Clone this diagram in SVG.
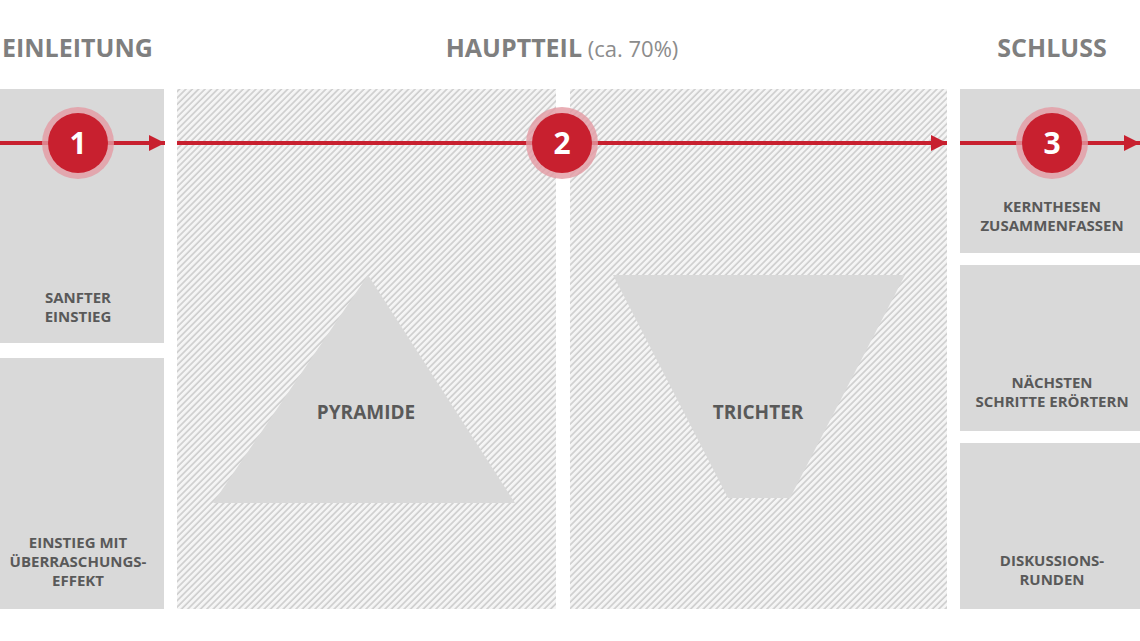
<svg xmlns="http://www.w3.org/2000/svg" width="1140" height="641" viewBox="0 0 1140 641">
  <defs>
    <style>
      .title { font-family: "Open Sans", "Liberation Sans", sans-serif; font-weight: 700; font-size: 25px; fill: #7f7f7f; }
      .sub { font-family: "Open Sans", "Liberation Sans", sans-serif; font-weight: 400; font-size: 22px; fill: #8c8c8c; }
      .box { fill: #d9d9d9; }
      .hatch { fill: url(#hatch); }
      .shape { fill: #d9d9d9; }
      .lbl { font-family: "Open Sans", "Liberation Sans", sans-serif; font-weight: 700; font-size: 15px; fill: #595959; text-anchor: middle; }
      .big { font-family: "Open Sans", "Liberation Sans", sans-serif; font-weight: 700; font-size: 19px; fill: #595959; text-anchor: middle; }
      .num { font-family: "Open Sans", "Liberation Sans", sans-serif; font-weight: 700; font-size: 30px; fill: #ffffff; text-anchor: middle; }
      .halo { fill: #e39aa3; opacity: 0.8; }
      .dot { fill: #c8202f; }
      .conn { stroke: #c8202f; stroke-width: 4; fill: none; marker-end: url(#arrow); }
    </style>
    <pattern id="hatch" patternUnits="userSpaceOnUse" width="4.5" height="4.5" patternTransform="rotate(45)">
      <rect width="4.5" height="4.5" fill="#f5f5f5"/>
      <line x1="1" y1="0" x2="1" y2="4.5" stroke="#cdcdcd" stroke-width="1.6"/>
    </pattern>
    <marker id="arrow" markerUnits="userSpaceOnUse" markerWidth="16" markerHeight="16" refX="16" refY="8" orient="auto">
      <path d="M0,0 L16,8 L0,16 Z" fill="#c8202f"/>
    </marker>
  </defs>

  <rect width="1140" height="641" fill="#ffffff"/>

  <!-- Section titles -->
  <text class="title" x="2" y="57">EINLEITUNG</text>
  <text x="562" y="57" text-anchor="middle"><tspan class="title">HAUPTTEIL</tspan><tspan class="sub"> (ca. 70%)</tspan></text>
  <text class="title" x="1052" y="57" text-anchor="middle">SCHLUSS</text>

  <!-- Einleitung -->
  <g id="sanfter-einstieg">
    <rect class="box" x="0" y="89" width="164" height="254"/>
    <text class="lbl" x="78" y="303">SANFTER</text>
    <text class="lbl" x="78" y="322">EINSTIEG</text>
  </g>
  <g id="einstieg-ueberraschung">
    <rect class="box" x="0" y="358" width="164" height="251"/>
    <text class="lbl" x="78" y="548">EINSTIEG MIT</text>
    <text class="lbl" x="78" y="567">ÜBERRASCHUNGS-</text>
    <text class="lbl" x="78" y="586">EFFEKT</text>
  </g>

  <!-- Hauptteil -->
  <g id="pyramide">
    <rect class="hatch" x="177" y="89" width="379" height="520"/>
    <polygon class="shape" points="368,275 515,503 213,503"/>
    <text class="big" x="366" y="419">PYRAMIDE</text>
  </g>
  <g id="trichter">
    <rect class="hatch" x="570" y="89" width="377" height="520"/>
    <polygon class="shape" points="613,275 905,275 790,498 728,498"/>
    <text class="big" x="758" y="419">TRICHTER</text>
  </g>

  <!-- Schluss -->
  <g id="kernthesen">
    <rect class="box" x="960" y="89" width="180" height="164"/>
    <text class="lbl" x="1052" y="212">KERNTHESEN</text>
    <text class="lbl" x="1052" y="231">ZUSAMMENFASSEN</text>
  </g>
  <g id="naechste-schritte">
    <rect class="box" x="960" y="265" width="180" height="166"/>
    <text class="lbl" x="1052" y="388">NÄCHSTEN</text>
    <text class="lbl" x="1052" y="407">SCHRITTE ERÖRTERN</text>
  </g>
  <g id="diskussionsrunden">
    <rect class="box" x="960" y="443" width="180" height="166"/>
    <text class="lbl" x="1052" y="566">DISKUSSIONS-</text>
    <text class="lbl" x="1052" y="585">RUNDEN</text>
  </g>

  <!-- Connectors -->
  <g id="connectors">
    <line class="conn" x1="0" y1="143" x2="165" y2="143"/>
    <line class="conn" x1="177" y1="143" x2="947" y2="143"/>
    <line class="conn" x1="960" y1="143" x2="1140" y2="143"/>
  </g>

  <!-- Step markers -->
  <g id="step-1">
    <circle class="halo" cx="78" cy="143" r="36"/>
    <circle class="dot" cx="78" cy="143" r="30"/>
    <text class="num" x="78" y="154">1</text>
  </g>
  <g id="step-2">
    <circle class="halo" cx="562" cy="143" r="36"/>
    <circle class="dot" cx="562" cy="143" r="30"/>
    <text class="num" x="562" y="154">2</text>
  </g>
  <g id="step-3">
    <circle class="halo" cx="1052" cy="143" r="36"/>
    <circle class="dot" cx="1052" cy="143" r="30"/>
    <text class="num" x="1052" y="154">3</text>
  </g>
</svg>
